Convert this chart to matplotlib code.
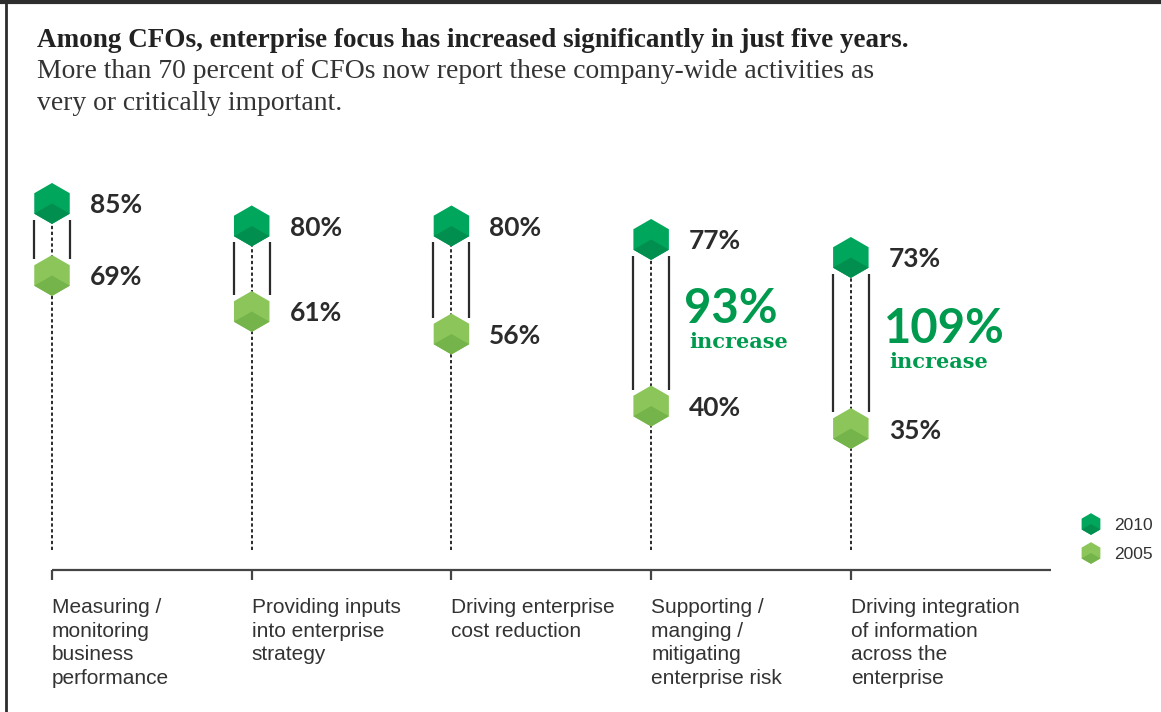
import matplotlib.pyplot as plt

# data
categories = ["Measuring /\nmonitoring\nbusiness\nperformance",
              "Providing inputs\ninto enterprise\nstrategy",
              "Driving enterprise\ncost reduction",
              "Supporting /\nmanging /\nmitigating\nenterprise risk",
              "Driving integration\nof information\nacross the\nenterprise"]
pct_2010 = [85, 80, 80, 77, 73]
pct_2005 = [69, 61, 56, 40, 35]
years = ["2010", "2005"]
callouts = [3, 4]  # categories that get the "% increase" note

c2010, c2010_dk = "#00A65B", "#008F4F"
c2005, c2005_dk = "#8CC65B", "#74B44A"
ink = "#2b2b2b"
callout_green = "#009A4E"

fig = plt.figure(figsize=(11.61, 7.12), dpi=100)
ax = fig.add_axes([0, 0, 1, 1])
ax.set_xlim(-0.2604, 5.553)
ax.set_ylim(-27.98, 130.2)
ax.axis('off')

x = list(range(len(categories)))
facet = [(0, 0), (-0.866, -0.5), (0, -1), (0.866, -0.5)]  # darker lower face
hex_s = 29.5 ** 2


def hexes(xs, ys, top, dk, s, **kw):
    ax.scatter(xs, ys, s=s, marker='h', color=top, edgecolors='none', zorder=3, **kw)
    ax.scatter(xs, ys, s=s, marker=facet, color=dk, edgecolors='none', zorder=4, **kw)


# dotted stems
ax.vlines(x, 8, pct_2010, colors=ink, lw=1.4, linestyles=(0, (1.7, 1.3)), zorder=1)
# side rails between the two years
for i in x:
    ax.vlines([i - 0.09, i + 0.09], pct_2005[i] + 3.6, pct_2010[i] - 3.6,
              colors=ink, lw=1.6, zorder=1)

# baseline with ticks
ax.plot([0, len(categories)], [3.6, 3.6], color="#444444", lw=1.6, solid_capstyle='butt')
ax.vlines(x, 1.3, 3.6, colors="#444444", lw=1.6)

hexes(x, pct_2010, c2010, c2010_dk, hex_s)
hexes(x, pct_2005, c2005, c2005_dk, hex_s)

for i in x:
    for v in (pct_2010[i], pct_2005[i]):
        ax.text(i + 0.19, v, f"{v}%", ha='left', va='center_baseline',
                fontsize=19, fontweight='bold', family='Lato', color=ink)
    ax.text(i, -2.7, categories[i], ha='left', va='top', fontsize=15,
            family='Liberation Sans', color="#333333", linespacing=1.3)

for i in callouts:
    inc = int((pct_2010[i] - pct_2005[i]) / pct_2005[i] * 100 + 0.5)
    mid = (pct_2010[i] + pct_2005[i]) / 2
    ax.text(i + 0.165, mid, f"{inc}%", ha='left', va='baseline', fontsize=34,
            fontweight='bold', family='Lato', color=callout_green)
    ax.annotate("increase", (i + 0.19, mid), xytext=(0, -18), textcoords='offset points',
                ha='left', va='baseline', fontsize=15, fontweight='bold',
                family='DejaVu Serif', color=callout_green)

# legend
for yr, top, dk, ly in zip(years, [c2010, c2005], [c2010_dk, c2005_dk], [0.2640, 0.2233]):
    hexes([0.9397], [ly], top, dk, 15.6 ** 2, transform=ax.transAxes, clip_on=False)
    ax.text(0.9595, ly, yr, transform=ax.transAxes, ha='left', va='center_baseline',
            fontsize=12.5, family='Liberation Sans', color="#333333")

# titles
fig.text(37 / 1161, 1 - 47 / 712, "Among CFOs, enterprise focus has increased significantly in just five years.",
         fontsize=19.5, fontweight='bold', family='Liberation Serif', color="#222222")
fig.text(37 / 1161, 1 - 78 / 712, "More than 70 percent of CFOs now report these company-wide activities as",
         fontsize=19.9, family='Liberation Serif', color="#333333")
fig.text(37 / 1161, 1 - 110 / 712, "very or critically important.",
         fontsize=19.9, family='Liberation Serif', color="#333333")

# frame
fig.add_artist(plt.Line2D([0, 1], [1 - 2 / 712, 1 - 2 / 712], color="#2d2d2d", lw=3))
fig.add_artist(plt.Line2D([6 / 1161, 6 / 1161], [0, 1], color="#2d2d2d", lw=2))

fig.savefig("out.png", dpi=100)
